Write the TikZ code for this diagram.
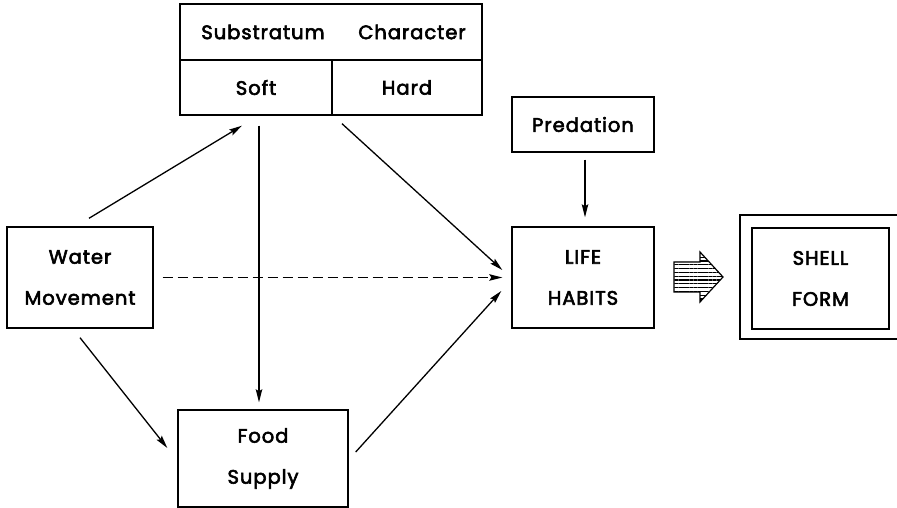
\documentclass[tikz,border=0pt]{standalone}
\usepackage{fontspec}
\setmainfont{Poppins}[FakeBold=3,LetterSpace=5]
\usetikzlibrary{arrows.meta,patterns.meta}
\begin{document}
\begin{tikzpicture}[x=1pt,y=1pt,
  lbl/.style={font=\fontsize{19.5}{41}\selectfont},
  box/.style={draw,line width=1.4pt,inner sep=0pt,align=center,lbl},
  arr/.style={line width=1.3pt,-{Stealth[length=13pt,width=6.5pt,inset=2pt]}},
  dashedarr/.style={arr,dash pattern=on 10pt off 5pt}]
\useasboundingbox (0,0) rectangle (897,508);
% substratum character block
\node[box,minimum width=302,minimum height=56] (sub) at (331,476) {};
\node[lbl] (subA) at (263,476) {Substratum};
\node[lbl] (subB) at (412,476) {Character};
\node[box,minimum width=152,minimum height=55] (soft) at (256,420.5) {Soft};
\node[box,minimum width=150,minimum height=55] (hard) at (407,420.5) {Hard};
% other boxes
\node[box,minimum width=146,minimum height=101] (water) at (80,230.5) {Water\\Movement};
\node[box,minimum width=142,minimum height=55] (pred) at (583,383.5) {Predation};
\node[box,minimum width=142,minimum height=101] (life) at (583,230.5) {LIFE\\HABITS};
\node[box,minimum width=137,minimum height=101] (shell) at (820.5,229.5) {SHELL\\FORM};
\node[box,minimum width=170,minimum height=97] (food) at (263,49.5) {Food\\Supply};
% outer frame of shell form (cut off by the right margin)
\draw[line width=1.4pt] (897,169) -- (740,169) -- (740,293) -- (897,293);
% hatched arrow
\draw[line width=1.2pt,pattern={Lines[angle=0,distance=3.8pt,line width=1.1pt]}]
  (674,216) -- (700,216) -- (700,206) -- (723,231) -- (700,256) -- (700,246) -- (674,246) -- cycle;
% connectors
\draw[arr] ([xshift=9pt,yshift=8pt]water.north) -- ([xshift=-14pt,yshift=-10pt]soft.south);
\draw[arr] ([xshift=3pt,yshift=-10pt]soft.south) -- ([xshift=-4pt,yshift=7pt]food.north);
\draw[arr] ([xshift=-65pt,yshift=-8pt]hard.south) -- ([xshift=-9pt,yshift=7.5pt]life.west);
\draw[dashedarr] ([xshift=9pt]water.east) -- ([xshift=-9pt]life.west);
\draw[arr] ([xshift=7pt,yshift=6.5pt]food.east) -- ([xshift=-10pt,yshift=-13.5pt]life.west);
\draw[arr] ([yshift=-9pt]water.south) -- ([xshift=-10pt,yshift=10.5pt]food.west);
\draw[arr] ([xshift=2pt,yshift=-7pt]pred.south) -- ([xshift=2pt,yshift=9pt]life.north);
\end{tikzpicture}
\end{document}
